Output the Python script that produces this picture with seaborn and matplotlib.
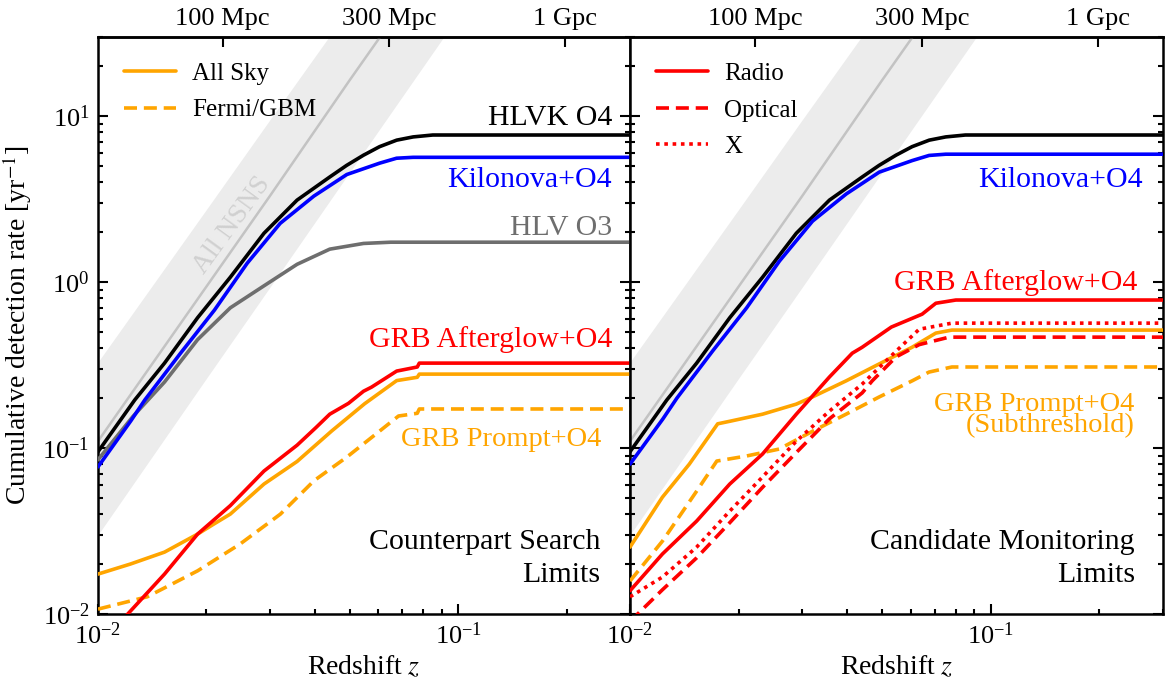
import numpy as np
import matplotlib
matplotlib.use("Agg")
import matplotlib.pyplot as plt
import seaborn as sns
from matplotlib.ticker import LogLocator, NullLocator, NullFormatter
from matplotlib.lines import Line2D

# ---------------------------------------------------------------------------
# Cumulative detection rates [yr^-1] versus redshift
# ---------------------------------------------------------------------------

# All NSNS: central rate and its uncertainty band
z_nsns = [0.010, 0.020, 0.030, 0.050, 0.100]
rate_nsns = [0.11, 0.94, 3.3, 16.5, 140.0]
rate_nsns_lo = [0.030, 0.263, 0.93, 4.6, 40.0]
rate_nsns_hi = [0.33, 2.74, 9.5, 45.0, 370.0]

# HLVK O4 gravitational-wave detections
z_hlvk = [0.0100, 0.01265, 0.0153, 0.0189, 0.0233, 0.0289, 0.0357, 0.0440,
          0.0490, 0.0546, 0.0605, 0.0675, 0.0750, 0.0850, 0.300]
rate_hlvk = [0.095, 0.195, 0.325, 0.61, 1.07, 1.97, 3.12, 4.30,
             5.05, 5.82, 6.55, 7.17, 7.50, 7.70, 7.70]

# HLV O3 gravitational-wave detections
z_hlv = [0.0100, 0.0125, 0.0153, 0.0189, 0.0233, 0.0289, 0.0357, 0.0440,
         0.0546, 0.0650, 0.300]
rate_hlv = [0.085, 0.155, 0.25, 0.45, 0.70, 0.95, 1.28, 1.58,
            1.71, 1.74, 1.74]

# Kilonova + O4 (search limits / monitoring limits)
z_kn = [0.0100, 0.01234, 0.01349, 0.01695, 0.02105, 0.02596, 0.03205,
        0.03976, 0.04906, 0.06053, 0.06745, 0.0750, 0.300]
rate_kn_search = [0.077, 0.146, 0.195, 0.373, 0.678, 1.30, 2.26,
                  3.30, 4.45, 5.21, 5.58, 5.65, 5.65]
rate_kn_monitor = [0.080, 0.150, 0.200, 0.385, 0.70, 1.34, 2.33,
                   3.40, 4.60, 5.40, 5.80, 5.90, 5.90]

# Counterpart search limits
z_ag_search = [0.0100, 0.0123, 0.0153, 0.0189, 0.0233, 0.0289, 0.0357,
               0.0403, 0.0440, 0.0496, 0.0546, 0.0575, 0.0675, 0.0770,
               0.0780, 0.300]
rate_ag_search = [0.0064, 0.0104, 0.0174, 0.0303, 0.045, 0.0727, 0.104,
                  0.133, 0.160, 0.186, 0.220, 0.233, 0.291, 0.308,
                  0.325, 0.325]

z_allsky_search = [0.0100, 0.0123, 0.0153, 0.0189, 0.0210, 0.0233, 0.0289,
                   0.0357, 0.0446, 0.0550, 0.0675, 0.0770, 0.0780, 0.300]
rate_allsky_search = [0.0174, 0.0200, 0.0236, 0.0303, 0.0349, 0.0400,
                      0.0607, 0.0830, 0.127, 0.185, 0.255, 0.267, 0.279,
                      0.279]

z_gbm_search = [0.0100, 0.0137, 0.0189, 0.0248, 0.0321, 0.0398, 0.0490,
                0.0601, 0.0683, 0.0770, 0.0780, 0.300]
rate_gbm_search = [0.0107, 0.0127, 0.0182, 0.0264, 0.0400, 0.0636, 0.088,
                   0.125, 0.156, 0.162, 0.172, 0.172]

# Candidate monitoring limits
z_radio = [0.0100, 0.0123, 0.0153, 0.0189, 0.0233, 0.0289, 0.0357, 0.0413,
           0.0440, 0.0530, 0.0645, 0.0704, 0.0800, 0.300]
rate_radio = [0.0138, 0.0230, 0.0363, 0.0607, 0.0921, 0.160, 0.268, 0.373,
              0.405, 0.536, 0.641, 0.746, 0.780, 0.780]

z_optical = [0.0100, 0.0106, 0.0123, 0.0153, 0.0189, 0.0233, 0.0289, 0.0357,
             0.0440, 0.0469, 0.0546, 0.0633, 0.0766, 0.300]
rate_optical = [0.0090, 0.0102, 0.0140, 0.0218, 0.0355, 0.058, 0.094, 0.150,
                0.215, 0.254, 0.354, 0.420, 0.466, 0.466]

z_xray = [0.0100, 0.0123, 0.0153, 0.0189, 0.0233, 0.0289, 0.0357, 0.0440,
          0.0546, 0.0633, 0.0780, 0.300]
rate_xray = [0.0127, 0.0167, 0.0253, 0.0417, 0.0670, 0.110, 0.167, 0.243,
             0.383, 0.520, 0.566, 0.566]

z_allsky_monitor = [0.0100, 0.0123, 0.0146, 0.0175, 0.0189, 0.0233, 0.0289,
                    0.0320, 0.0397, 0.0490, 0.0605, 0.0704, 0.0780, 0.300]
rate_allsky_monitor = [0.0253, 0.0506, 0.080, 0.140, 0.145, 0.160, 0.184,
                       0.203, 0.254, 0.321, 0.405, 0.493, 0.514, 0.514]

z_gbm_monitor = [0.0100, 0.0123, 0.0153, 0.0174, 0.0210, 0.0259, 0.0320,
                 0.0397, 0.0490, 0.0605, 0.0674, 0.0780, 0.300]
rate_gbm_monitor = [0.0158, 0.0275, 0.055, 0.0835, 0.0895, 0.0986, 0.126,
                    0.160, 0.203, 0.254, 0.287, 0.308, 0.308]

# Luminosity-distance markers on the top axis
dist_z = [0.0222, 0.0644, 0.198]
dist_labels = ["100 Mpc", "300 Mpc", "1 Gpc"]

# ---------------------------------------------------------------------------
sns.set_theme(style="ticks")
plt.rcParams.update({
    "font.family": ["Liberation Serif", "DejaVu Serif"],
    "mathtext.fontset": "stix",
    "axes.linewidth": 1.8,
    "axes.edgecolor": "black",
    "xtick.direction": "in",
    "ytick.direction": "in",
    "xtick.color": "black",
    "ytick.color": "black",
    "text.color": "black",
    "axes.labelcolor": "black",
})

ORANGE = "#ffa500"
RED = "#ff0000"
BLUE = "#0000ff"
GREY = "#6e6e6e"
LW = 2.6
DASH = (0, (3.6, 1.9))
DOT = (0, (1.0, 1.3))

W, H = 1166, 692
fig = plt.figure(figsize=(W / 100, H / 100), dpi=100)
axL = fig.add_axes([98 / W, 1 - 614 / H, 532 / W, 577 / H])
axR = fig.add_axes([630 / W, 1 - 614 / H, 533 / W, 577 / H], sharey=axL)


def curve(ax, x, y, color, ls="-", lw=LW, z=3):
    sns.lineplot(x=x, y=y, ax=ax, color=color, linewidth=lw, linestyle=ls,
                 estimator=None, sort=False, legend=False, zorder=z)


for ax in (axL, axR):
    ax.set_xscale("log")
    ax.set_yscale("log")
    ax.set_xlim(0.01, 0.3)
    ax.set_ylim(0.01, 30)
    ax.fill_between(z_nsns, rate_nsns_lo, rate_nsns_hi, color="#ececec",
                    lw=0, zorder=0)
    curve(ax, z_nsns, rate_nsns, "#c3c3c3", lw=1.8, z=1)
    curve(ax, z_hlvk, rate_hlvk, "black")

# Left: counterpart search limits
curve(axL, z_hlv, rate_hlv, GREY)
curve(axL, z_kn, rate_kn_search, BLUE)
curve(axL, z_allsky_search, rate_allsky_search, ORANGE)
curve(axL, z_gbm_search, rate_gbm_search, ORANGE, ls=DASH)
curve(axL, z_ag_search, rate_ag_search, RED)

# Right: candidate monitoring limits
curve(axR, z_kn, rate_kn_monitor, BLUE)
curve(axR, z_allsky_monitor, rate_allsky_monitor, ORANGE)
curve(axR, z_gbm_monitor, rate_gbm_monitor, ORANGE, ls=DASH)
curve(axR, z_xray, rate_xray, RED, ls=DOT)
curve(axR, z_optical, rate_optical, RED, ls=DASH)
curve(axR, z_radio, rate_radio, RED)

# Ticks and axes decoration
for ax in (axL, axR):
    ax.xaxis.set_minor_locator(LogLocator(base=10, subs=np.arange(2, 10)))
    ax.xaxis.set_minor_formatter(NullFormatter())
    ax.yaxis.set_minor_locator(LogLocator(base=10, subs=np.arange(2, 10)))
    ax.yaxis.set_minor_formatter(NullFormatter())
    ax.tick_params(which="both", direction="in", top=False, bottom=True,
                   left=True, right=True, width=1.5)
    ax.tick_params(which="major", length=7.5, labelsize=19, pad=6)
    ax.tick_params(which="minor", length=3.8)
    ax.set_xlabel(r"Redshift $z$", fontsize=20, labelpad=4)
    for sp in ax.spines.values():
        sp.set_visible(True)
        sp.set_linewidth(1.8)
    sec = ax.secondary_xaxis("top")
    sec.set_xticks(dist_z)
    sec.set_xticklabels(dist_labels)
    sec.xaxis.set_minor_locator(NullLocator())
    sec.tick_params(which="major", direction="in", length=7.5, width=1.5,
                    labelsize=19, pad=5)
    sec.spines["top"].set_linewidth(1.8)

axR.tick_params(labelleft=False)
axL.set_ylabel(r"Cumulative detection rate [yr$^{-1}$]", fontsize=20,
               labelpad=6)

# Legends
leg_kw = dict(loc="upper left", frameon=False, fontsize=18, handlelength=2.1,
              handletextpad=0.65, labelspacing=0.56, borderaxespad=0.62)
axL.legend(handles=[Line2D([], [], color=ORANGE, lw=LW, ls="-"),
                    Line2D([], [], color=ORANGE, lw=LW, ls=DASH)],
           labels=["All Sky", "Fermi/GBM"], **leg_kw)
axR.legend(handles=[Line2D([], [], color=RED, lw=LW, ls="-"),
                    Line2D([], [], color=RED, lw=LW, ls=DASH),
                    Line2D([], [], color=RED, lw=LW, ls=DOT)],
           labels=["Radio", "Optical", "X"], **leg_kw)

# Curve labels
kw = dict(ha="right", va="center", fontsize=21.5)
kw_small = dict(ha="right", va="center", fontsize=20.5)
tL = axL.transAxes
tR = axR.transAxes
axL.text(0.966, 0.860, "HLVK O4", color="black", transform=tL, **kw)
axL.text(0.966, 0.752, "Kilonova+O4", color=BLUE, transform=tL, **kw)
axL.text(0.966, 0.669, "HLV O3", color=GREY, transform=tL, **kw)
axL.text(0.966, 0.475, "GRB Afterglow+O4", color=RED, transform=tL, **kw)
axL.text(0.947, 0.302, "GRB Prompt+O4", color=ORANGE, transform=tL,
         **kw_small)
axL.text(0.945, 0.097, "Counterpart Search\nLimits", color="black",
         multialignment="right", linespacing=1.35, transform=tL, **kw)
axL.text(0.252, 0.674, "All NSNS", color="#d0d0d0", rotation=54,
         ha="center", va="center", rotation_mode="anchor", fontsize=20,
         transform=tL, zorder=2)

axR.text(0.962, 0.752, "Kilonova+O4", color=BLUE, transform=tR, **kw)
axR.text(0.951, 0.574, "GRB Afterglow+O4", color=RED, transform=tR, **kw)
axR.text(0.947, 0.345, "GRB Prompt+O4\n(Subthreshold)", color=ORANGE,
         multialignment="right", linespacing=0.8, transform=tR, **kw_small)
axR.text(0.947, 0.097, "Candidate Monitoring\nLimits", color="black",
         multialignment="right", linespacing=1.35, transform=tR, **kw)

fig.savefig("out.png", dpi=100)
